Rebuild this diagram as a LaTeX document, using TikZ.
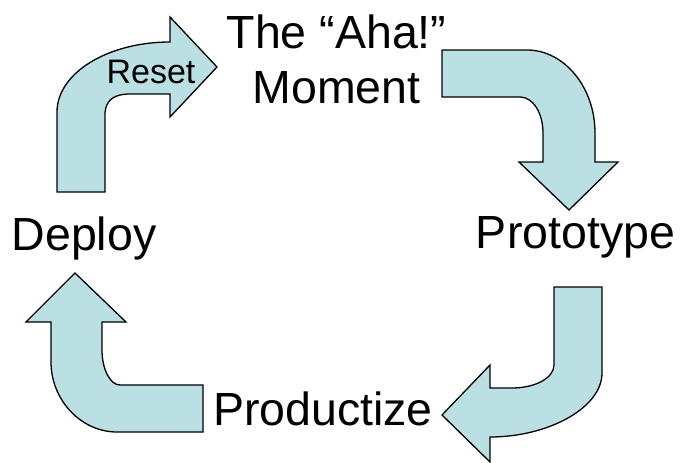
\documentclass[tikz,border=0pt]{standalone}
\usepackage{fontspec}
\setmainfont{Liberation Sans}
\definecolor{arrowfill}{RGB}{187,224,227}
\tikzset{
  blockarrow/.style={draw=black, line width=1.3pt, fill=arrowfill, line join=miter},
  bigtext/.style={inner sep=0pt, anchor=base, font=\fontsize{46.5}{55}\selectfont},
  smalltext/.style={inner sep=0pt, anchor=base, font=\fontsize{34}{40}\selectfont}
}
\begin{document}
\begin{tikzpicture}[x=1pt,y=-1pt]
\useasboundingbox (0,0) rectangle (681,463);
% Reset arrow (Deploy -> Aha)
\draw[blockarrow] (57,192) -- (57,112) .. controls (57,73) and (108,42) .. (170,42)
  -- (170,17) -- (217,67) -- (170,117) -- (170,94) -- (130,94)
  .. controls (114,94) and (105,100) .. (105,115) -- (105,192) -- cycle;
% Aha -> Prototype
\draw[blockarrow] (442,50) -- (527,50) .. controls (564,50) and (595,87) .. (595,133)
  -- (595,162) -- (618,162) -- (569,210) -- (519,162) -- (543,162) -- (543,133)
  .. controls (543,113) and (533,97) .. (520,97) -- (442,97) -- cycle;
% Prototype -> Productize
\draw[blockarrow] (554,287) -- (602,287) -- (602,373) .. controls (602,408) and (548,437) .. (490,437)
  -- (490,462) -- (442,415) -- (490,365) -- (490,388) -- (512,388)
  .. controls (535,388) and (554,378) .. (554,365) -- cycle;
% Productize -> Deploy
\draw[blockarrow] (203,385) -- (120,385) .. controls (110,385) and (102,369) .. (102,350)
  -- (102,322) -- (126,322) -- (75,273) -- (26,322) -- (51,322) -- (51,362)
  .. controls (51,400) and (81,432) .. (117,432) -- (203,432) -- cycle;
% labels
\node[bigtext] (aha1) at (336.5,48) {The “Aha!”};
\node[bigtext] (aha2) at (336.5,103) {Moment};
\node[bigtext] (prototype) at (575.5,248) {Prototype};
\node[bigtext] (deploy) at (84,250) {Deploy};
\node[bigtext] (productize) at (323,425) {Productize};
\node[smalltext] (reset) at (151,83) {Reset};
\end{tikzpicture}
\end{document}
